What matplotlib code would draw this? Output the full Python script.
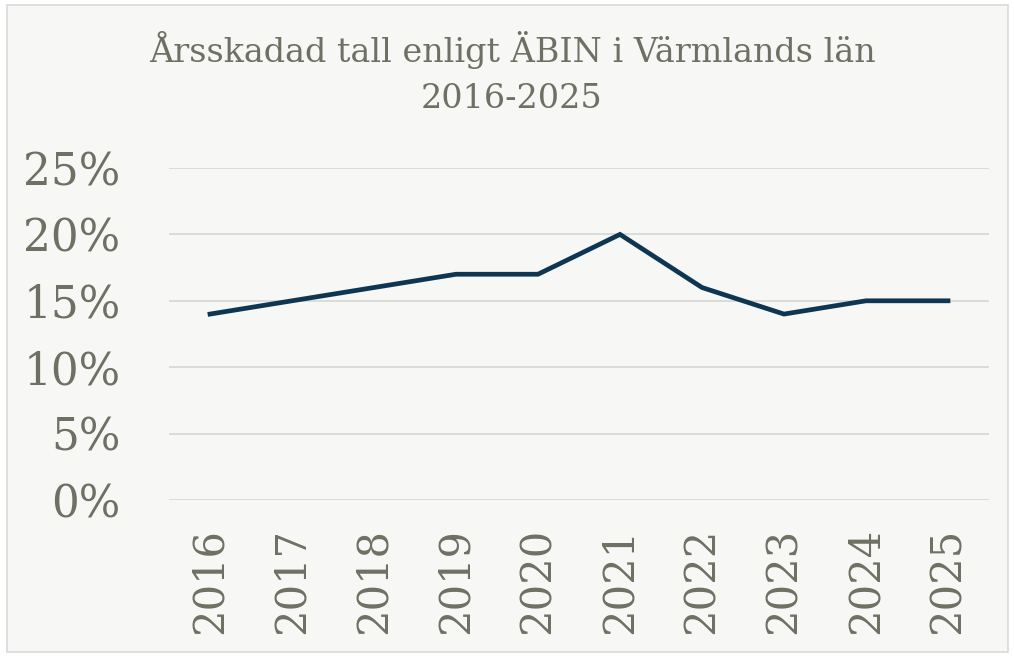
import matplotlib
matplotlib.use("Agg")
import matplotlib.pyplot as plt
from matplotlib.patches import Rectangle
from matplotlib.ticker import FuncFormatter

years = ["2016", "2017", "2018", "2019", "2020", "2021", "2022", "2023", "2024", "2025"]
damage_pct = [14, 15, 16, 17, 17, 20, 16, 14, 15, 15]
y_ticks = [0, 5, 10, 15, 20, 25]

bg = "#f7f7f5"
text_c = "#6f7064"
line_c = "#0e3552"
grid_c = "#d9d9d6"

plt.rcParams['font.family'] = ['DejaVu Serif']

fig = plt.figure(figsize=(10.14, 6.57), dpi=100, facecolor="white")
fig.patches.append(Rectangle((7/1014, 1-652/657), 1001/1014, 647/657, transform=fig.transFigure,
                             facecolor=bg, edgecolor="#d9d9d9", linewidth=1.2, zorder=-10))

ax = fig.add_axes([169/1014, 1-500/657, 820/1014, 332/657])
ax.set_zorder(5)
ax.set_facecolor("none")
x = list(range(len(years)))
ax.plot(x, damage_pct, color=line_c, linewidth=3.4, solid_joinstyle="miter", zorder=3)
ax.set_xlim(-0.5, len(years)-0.5)
ax.set_ylim(0, 25)
ax.set_yticks(y_ticks)
ax.yaxis.set_major_formatter(FuncFormatter(lambda v, p: f"{int(v)}%"))
ax.set_xticks(x)
ax.set_xticklabels(years, rotation=90)
ax.grid(axis="y", color=grid_c, linewidth=1.3)
ax.set_axisbelow(True)
for s in ax.spines.values():
    s.set_visible(False)
ax.tick_params(axis="both", length=0, colors=text_c)
ax.tick_params(axis="y", labelsize=31.5, pad=35)
ax.tick_params(axis="x", labelsize=30, pad=20)

fig.text(512/1014, 1-50/657, "Årsskadad tall enligt ÄBIN i Värmlands län", ha="center", va="center",
         fontsize=24, color=text_c)
fig.text(512/1014, 1-99/657, "2016-2025", ha="center", va="center", fontsize=24, color=text_c)

fig.savefig("out.png", dpi=100, facecolor="white")
